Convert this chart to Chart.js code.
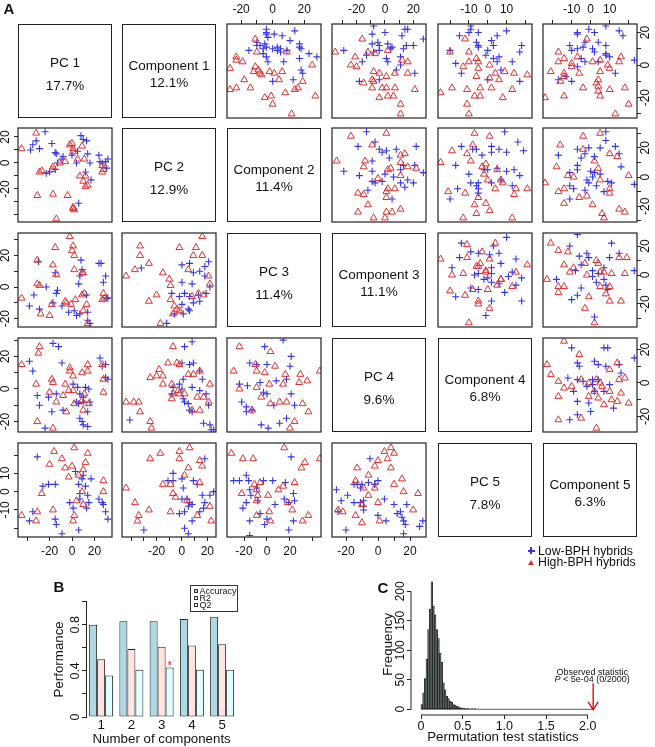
<!DOCTYPE html>
<html><head><meta charset="utf-8">
<script src="https://cdn.jsdelivr.net/npm/chart.js@4.4.1/dist/chart.umd.min.js"></script>
<style>
html,body{margin:0;padding:0;background:#fff;}
#root{position:relative;width:655px;height:747px;overflow:hidden;font-family:"Liberation Sans",Arial,Helvetica,sans-serif;color:#111;}
#root canvas{position:absolute;}
.diag{position:absolute;box-sizing:border-box;border:1.2px solid #222;}
.t{position:absolute;white-space:nowrap;transform:translate(-50%,-50%);line-height:1;}
.tl{position:absolute;white-space:nowrap;transform:translate(0,-50%);line-height:1;}
</style></head><body><div id="root"></div>
<script>
// ---------------- DATA : scatter-plot matrix (A) ----------------
// upper triangle = PLS components, lower triangle = principal components; [x, y]
const r1c3Low=[[-4,22],[-4,19],[1,19],[6,18],[14,21],[-10,12],[-5,13],[-4,11],[3,9],[11,15],[17,13],[17,11],[-15,9],[-6,7],[0,10],[23,7],[28,5],[-4,5],[-3,2],[7,2],[17,4],[18,-3],[19,-5],[0,-10],[13,-9],[-10,14],[5,10],[-4,20],[-3,17],[-8,12],[-6,10],[3,11],[5,8],[18,10],[9,9]];
const r1c3High=[[-11,16],[-10,8],[9,8],[-23,5],[-23,3],[-19,2],[-27,-2],[-11,-1],[-9,-3],[-12,-4],[-8,-5],[-2,-4],[1,-5],[6,-4],[25,0],[-18,-9],[-7,-6],[4,-9],[19,-10],[16,-14],[14,-15],[8,-17],[-27,-15],[-23,-14],[-14,-14],[-5,-20],[-1,-19],[0,-24],[12,-30],[27,-19]];
const r1c4Low=[[-8,24],[-9,19],[0,20],[14,22],[16,22],[12,18],[-9,13],[-5,14],[-4,12],[2,13],[20,12],[15,12],[13,10],[4,10],[-4,9],[-8,8],[-13,6],[-29,9],[-16,2],[11,5],[1,4],[2,2],[11,0],[8,-3],[21,-5],[-4,-9],[-18,-10],[27,16],[5,11]];
const r1c4High=[[-16,16],[-12,8],[2,9],[-21,5],[-35,8],[-7,7],[12,3],[16,2],[-24,0],[-20,-1],[-8,-4],[-4,-5],[1,-7],[7,-5],[16,-5],[-15,-11],[-9,-9],[-8,-10],[-2,-14],[1,-14],[7,-14],[-4,-20],[2,-19],[6,-19],[11,-24],[21,-15],[11,-30],[-9,-14]];
const r1c5Low=[[-9,24],[-5,20],[-10,20],[-15,18],[-6,14],[-5,12],[2,15],[5,18],[3,12],[10,21],[18,12],[17,8],[0,9],[-1,6],[3,4],[6,5],[5,2],[13,2],[-20,9],[-17,1],[-14,-5],[7,-3],[0,-9],[17,-10],[-9,22],[-5,11]];
const r1c5High=[[-12,16],[-20,8],[-10,8],[-6,4],[-5,2],[-5,-2],[-13,-1],[-10,2],[1,0],[9,-4],[14,-5],[21,-6],[-6,-7],[1,-8],[6,-9],[-4,-14],[2,-14],[-11,-15],[-19,-14],[-25,-17],[-7,-19],[-4,-19],[13,-15],[8,-20],[-11,-24],[-10,-30],[4,-5]];
const r1c6Low=[[-7,20],[-7,19],[-1,22],[2,20],[8,24],[15,21],[17,18],[-11,12],[-10,9],[-7,10],[-3,14],[4,14],[8,12],[8,7],[1,10],[2,8],[10,5],[-5,4],[-3,2],[-7,-1],[4,2],[-17,-9],[-13,-7],[-10,-10],[13,-5],[23,3],[8,6],[-4,11]];
const r1c6High=[[-2,16],[-17,8],[-17,2],[-7,5],[-14,4],[-10,1],[-10,-1],[-21,-4],[-14,-5],[-14,-7],[-16,-10],[-6,-5],[1,2],[5,3],[9,0],[5,-4],[15,2],[16,5],[4,-9],[3,-11],[4,-13],[5,-19],[10,-15],[4,-16],[-4,-14],[-14,-19],[18,-14],[20,-24],[13,-30],[-24,-20],[10,-2]];
const r2c1Low=[[-24,24],[-32,17],[-35,14],[-37,10],[-29,11],[-18,15],[-15,8],[-14,7],[-8,5],[0,6],[5,9],[8,21],[10,18],[13,17],[14,7],[16,0],[24,6],[25,1],[27,0],[30,1],[32,3],[31,-4],[-13,0],[-15,-5],[-20,-7],[-23,-8],[12,-7],[17,-13],[6,-31],[4,0],[-9,3]];
const r2c1High=[[-32,23],[-45,11],[-2,14],[0,15],[1,9],[1,11],[-6,1],[-17,-3],[-18,-5],[-29,-7],[-27,-6],[9,13],[5,3],[11,3],[7,-10],[12,-10],[10,-14],[14,-17],[12,-18],[27,-2],[28,-5],[27,-7],[-31,-25],[-17,-24],[-4,-25],[1,-34],[2,-36],[1,-35],[-14,-43],[-11,0]];
const r2c4Low=[[-13,31],[-7,24],[-19,21],[-4,19],[-2,17],[1,18],[8,19],[22,21],[3,13],[-9,11],[11,5],[21,8],[27,3],[-29,4],[-18,1],[-9,4],[0,2],[6,0],[16,-2],[11,-4],[14,-7],[-9,-3],[-7,-4],[-2,-3],[-12,-9],[5,-15],[13,8],[20,-4]];
const r2c4High=[[-24,28],[1,30],[-9,22],[-14,11],[-15,7],[11,15],[14,16],[11,10],[16,7],[22,6],[11,1],[4,6],[-5,-1],[2,-8],[7,-8],[-34,11],[-19,-11],[-15,-12],[1,-10],[1,-14],[-12,-19],[1,-24],[5,-24],[11,-22],[-19,-24],[-8,-28],[0,-28],[2,5]];
const r2c5Low=[[-14,21],[-8,19],[-6,19],[2,21],[9,31],[16,24],[19,18],[-3,15],[2,17],[6,19],[10,17],[-17,8],[-10,2],[-2,5],[0,5],[5,6],[10,4],[14,5],[17,1],[-9,-4],[-5,-4],[-6,-6],[2,-4],[7,-2],[13,-6],[-16,-8],[-20,-15],[-5,-8],[-5,-11]];
const r2c5High=[[-7,30],[1,28],[-19,18],[-11,16],[-9,11],[-8,22],[-3,7],[-1,9],[-2,2],[5,5],[7,-2],[8,-4],[4,-8],[15,-8],[21,-8],[-25,10],[-21,-10],[-12,-11],[-5,-14],[-7,-19],[-1,-18],[1,-23],[-13,-28],[-6,-25],[14,-12],[13,-28],[0,-2]];
const r2c6Low=[[8,31],[8,25],[13,21],[15,16],[-1,20],[-7,19],[-17,15],[2,14],[-7,8],[-7,5],[-11,3],[0,4],[2,3],[-1,-4],[3,-6],[9,-3],[-11,-6],[-3,-9],[7,-10],[16,7],[23,-5],[-11,-15],[5,20],[-3,16],[-5,13],[1,0],[5,2],[-2,-2],[11,-4],[-9,-8]];
const r2c6High=[[-16,22],[-4,28],[5,30],[-4,19],[-18,7],[-12,1],[-9,0],[2,11],[4,6],[10,16],[14,14],[5,-2],[-17,-10],[-14,-8],[-6,-14],[-2,-13],[10,-8],[10,-11],[20,1],[-24,-4],[-14,-18],[1,-19],[6,-25],[7,-28],[15,-22],[18,-24]];
const r3c1Low=[[-30,16],[-15,9],[-13,-2],[-14,-4],[-23,0],[-34,-5],[-38,-12],[-29,-14],[-17,-10],[-9,-12],[-3,-16],[2,-15],[4,-18],[7,-17],[8,17],[7,7],[6,2],[13,-5],[14,-16],[16,-23],[24,15],[26,15],[30,7],[28,3],[31,-7],[32,-7],[14,-21],[9,11]];
const r3c1High=[[-2,32],[1,26],[0,23],[2,20],[-15,25],[-31,17],[-17,14],[-14,8],[2,11],[9,9],[10,9],[-31,2],[-29,1],[-45,-7],[-18,-11],[-6,-9],[-5,-10],[-1,-11],[3,-8],[9,-5],[11,-4],[13,-11],[10,-15],[-28,-17],[-20,-18],[14,-23],[28,-4],[27,-8],[29,-7]];
const r3c2Low=[[-32,12],[0,14],[6,15],[9,9],[21,16],[18,13],[14,10],[18,7],[0,3],[8,2],[22,0],[19,-4],[-8,-4],[-2,-6],[6,-6],[13,-5],[0,-11],[5,-14],[9,-10],[6,-15],[1,-17],[-6,-17],[-12,-23],[14,-9],[2,-4]];
const r3c2High=[[-33,26],[-33,20],[-2,25],[11,25],[16,32],[9,20],[16,20],[-44,7],[-37,11],[-26,15],[-15,9],[-10,5],[5,11],[21,7],[-9,1],[-20,-5],[-26,-9],[-9,-8],[-6,-12],[-4,-14],[-7,-17],[-2,-15],[8,-6],[17,-5],[-17,-23],[22,2],[13,-4]];
const r3c5Low=[[-14,22],[10,26],[3,20],[-5,15],[-9,16],[1,14],[6,15],[-15,12],[15,11],[-19,5],[-7,0],[-5,1],[2,1],[7,8],[13,2],[-2,-3],[0,-2],[2,-5],[6,-6],[11,-1],[18,-2],[15,-7],[-17,-15],[-9,-9],[-5,-10],[9,-12],[2,-18],[-1,-28],[18,-18],[2,5]];
const r3c5High=[[-11,21],[-25,11],[-11,12],[-3,16],[4,22],[-13,1],[-6,6],[-4,8],[-5,6],[-1,3],[-1,2],[7,-3],[7,-3],[15,2],[21,7],[-19,0],[-20,-11],[-12,-14],[-8,-10],[-5,-18],[-5,-20],[0,-10],[5,-7],[13,-8],[1,-23],[-10,-33],[1,11]];
const r3c6Low=[[-7,28],[-11,20],[-2,15],[-6,13],[-1,12],[10,12],[15,15],[-8,3],[-5,7],[1,3],[4,1],[7,5],[1,-1],[3,-5],[7,-3],[8,-7],[9,-10],[-18,-3],[-5,-9],[-7,-14],[-10,-17],[2,-29],[23,3],[11,22]];
const r3c6High=[[-21,22],[-17,17],[-12,16],[-14,7],[-9,5],[-11,2],[-3,8],[3,10],[4,8],[7,2],[5,2],[11,1],[-23,-3],[-17,-8],[-17,-12],[-14,-8],[-2,0],[5,-8],[10,-8],[15,12],[19,12],[18,1],[8,-13],[-1,-15],[-3,-23],[2,-33],[16,-18],[10,-18]];
const r4c1Low=[[-17,28],[-12,26],[-38,17],[-9,16],[25,19],[27,14],[30,15],[-35,11],[30,7],[32,6],[-31,-4],[-21,-5],[-14,-3],[1,3],[5,1],[12,1],[15,0],[7,-3],[10,-5],[4,-8],[6,-9],[10,-8],[16,-8],[-29,-10],[-18,-14],[-8,-13],[14,-14],[7,-18],[9,-20],[10,-22],[14,-23],[-24,-24]];
const r4c1High=[[-29,26],[-30,22],[-45,15],[-2,13],[14,15],[27,15],[-18,6],[-32,3],[-20,-2],[-17,4],[-6,3],[-2,11],[1,8],[9,10],[14,11],[-3,-1],[1,-1],[11,-3],[9,-7],[-8,-4],[-14,-8],[-5,-14],[2,-9],[10,-13],[15,-9],[28,6],[-31,-20],[-17,-24],[28,-2]];
const r4c2Low=[[2,26],[8,29],[0,16],[6,15],[9,16],[14,11],[16,6],[1,6],[-2,3],[-7,1],[-8,-3],[0,0],[8,1],[1,-6],[5,-9],[6,-13],[8,-14],[14,-1],[19,-3],[21,-10],[-41,-19],[17,-21],[22,-22],[23,-25],[25,-25],[2,-8]];
const r4c2High=[[-7,26],[-11,16],[-4,16],[-2,15],[-18,12],[-25,7],[-20,8],[-15,8],[5,9],[9,9],[14,11],[-15,3],[-8,3],[-3,-1],[-7,-3],[-2,-3],[-8,-6],[2,-3],[12,-5],[17,-5],[21,-8],[22,3],[-44,-8],[-38,-8],[-34,-8],[-33,-14],[-25,-20],[-24,-24],[8,-13],[14,-13]];
const r4c3Low=[[-2,26],[14,30],[-15,16],[-9,15],[0,15],[20,14],[21,20],[-24,3],[-17,2],[-6,4],[-3,-2],[0,-3],[8,5],[17,6],[21,-3],[-22,-8],[-18,-11],[-18,-14],[-13,-13],[6,-10],[17,-18],[24,-10],[-5,-22],[1,-24],[11,-21]];
const r4c3High=[[-24,26],[3,23],[-10,15],[-29,11],[-9,11],[-2,10],[7,14],[16,9],[29,9],[46,11],[-24,0],[-9,1],[2,3],[14,3],[28,4],[35,5],[-5,-5],[3,-9],[11,-8],[17,-8],[31,-9],[36,-14],[-13,-13],[24,-20],[20,-24]];
const r4c6Low=[[-10,21],[7,21],[9,21],[23,15],[-7,12],[-6,10],[2,13],[4,11],[8,10],[15,11],[16,6],[-12,3],[-7,2],[-9,-5],[-4,1],[-2,-2],[1,2],[1,-1],[2,-5],[7,-5],[10,-1],[12,-15],[-7,-11],[-1,-12],[0,-17],[-7,-19],[-11,-22],[4,2]];
const r4c6High=[[-14,25],[-6,17],[14,12],[-23,11],[-21,5],[-17,1],[-14,-3],[-10,-2],[-17,-8],[-5,2],[-1,0],[3,2],[5,0],[6,-2],[2,-5],[-1,-8],[4,-9],[10,-5],[7,-13],[11,-10],[15,2],[18,3],[16,-6],[14,-11],[20,-12],[-17,-22],[-5,-21],[3,-27],[10,8]];
const r5c1Low=[[-31,19],[3,11],[10,9],[-21,4],[-26,3],[-15,4],[6,4],[9,7],[17,7],[12,3],[7,-1],[14,-2],[-2,-6],[1,-9],[13,-9],[15,-6],[24,-4],[27,-6],[28,-7],[30,-11],[32,-15],[-35,-11],[-38,-16],[-15,-15],[-14,-18],[-9,-23],[6,-21],[7,-4]];
const r5c1High=[[-16,22],[2,24],[14,21],[-20,15],[-9,18],[-6,13],[0,14],[-3,8],[28,6],[28,0],[10,12],[12,16],[-27,-1],[9,0],[10,-7],[4,-5],[-31,-11],[-17,-10],[2,-13],[1,-16],[-45,-13],[-32,-16],[6,9]];
const r5c2Low=[[18,18],[-7,10],[-11,6],[-7,6],[0,7],[9,6],[12,4],[1,2],[4,-4],[0,-4],[6,-6],[5,-8],[-2,-12],[2,-11],[8,-16],[14,-11],[17,-9],[18,-6],[22,-2],[25,0],[2,-20],[5,-23],[-30,-21],[16,-2],[8,-7]];
const r5c2High=[[-25,18],[-17,21],[-2,22],[6,24],[-2,18],[5,13],[14,17],[16,14],[2,9],[-44,2],[-37,-6],[-34,-13],[-35,-16],[-26,-10],[-15,4],[-9,4],[-7,-1],[-5,-3],[-9,-11],[4,-5],[12,-13],[22,-8],[23,-16],[14,5]];
const r5c3Low=[[21,19],[-18,9],[-29,6],[-24,6],[-16,6],[-3,6],[5,6],[16,5],[-15,1],[-9,2],[-14,-2],[-18,-6],[-21,-9],[-8,-5],[-6,-12],[7,-7],[15,-4],[19,-6],[23,-1],[24,-5],[0,-15],[-2,-18],[-15,-16],[19,-21],[-15,-24],[23,-16]];
const r5c3High=[[-31,21],[-21,18],[-12,18],[15,24],[33,16],[46,18],[30,13],[-6,5],[-11,4],[-9,1],[-8,-2],[-22,-1],[1,-2],[10,1],[14,3],[24,5],[-9,-5],[18,-6],[22,-10],[2,-11],[-9,-13],[3,-16],[31,-16],[36,-13]];
const r5c4Low=[[-5,18],[0,6],[-2,4],[-15,4],[-26,1],[-13,4],[-11,2],[-10,4],[-6,5],[-2,4],[-19,-2],[-23,-5],[-15,-6],[-11,-6],[-9,-5],[-9,-8],[-9,-10],[-25,-11],[4,-4],[10,-7],[12,-12],[14,-11],[18,-7],[0,-13],[5,-16],[15,-14],[16,-16],[17,-18],[26,-19],[28,-16],[-20,-21],[16,-23]];
const r5c4High=[[8,24],[4,22],[10,21],[6,18],[0,17],[-2,14],[-13,13],[8,13],[15,7],[-6,9],[-14,6],[-9,2],[-2,2],[10,4],[-6,-2],[0,-6],[16,0],[25,-1],[-10,-7],[-14,-13],[-10,-17],[1,-16],[22,-10],[-25,-10],[-22,-11]];

// diagonal labels
const pcLabels=['PC 1','PC 2','PC 3','PC 4','PC 5'];
const pcVariance=['17.7%','12.9%','11.4%','9.6%','7.8%'];
const compLabels=['Component 1','Component 2','Component 3','Component 4','Component 5'];
const compVariance=['12.1%','11.4%','11.1%','6.8%','6.3%'];
const groupNames=['Low-BPH hybrids','High-BPH hybrids'];

// axis ticks (values and which are labelled)
const ticksBy20=[-40,-20,0,20], lab20=[-20,0,20], lab10=[-10,0,10];
const t40to20=[-40,-30,-20,-10,0,10,20], t30to20=[-30,-20,-10,0,10,20], t20to20=[-20,-10,0,10,20];
const t20to30=[-20,-10,0,10,20,30], t30to30=[-30,-20,-10,0,10,20,30], t20to40=[-20,0,20,40];

// ---------------- DATA : panel B ----------------
const compNums=['1','2','3','4','5'];
const accuracyVals=[0.80,0.83,0.83,0.85,0.87];
const r2Vals=[0.50,0.59,0.61,0.62,0.63];
const q2Vals=[0.36,0.41,0.43,0.41,0.41];
const perfTicks=[0,0.2,0.4,0.6,0.8,1.0], perfLabels=[0,0.4,0.8];
const bestComp=3;

// ---------------- DATA : panel C ----------------
const histMids=[0.01,0.03,0.05,0.07,0.09,0.11,0.13,0.15,0.17,0.19,0.21,0.23,0.25,0.27,0.29,0.31,0.33,0.35,0.37,0.39,0.41,0.43,0.45,0.47,0.49,0.51,0.53,0.55,0.57,0.59,0.61,0.63,0.65];
const histCounts=[8,28,52,85,135,170,216,175,160,135,120,95,80,45,33,22,18,14,12,8,7,5,4,3,2,2,1,1,1,0,1,0,1];
const histRangeEnd=2.06;
const statTicks=[0,0.5,1.0,1.5,2.0];
const freqTicks=[0,50,100,150,200];
const observedStat=2.066;

// ---------------- LAYOUT ----------------
const FONT='"Liberation Sans", Arial, Helvetica, sans-serif';
const BLUE='#3636e6', RED='#dc3030', INK='#222';
const COLX=[18,122,227,332,438,543], ROWY=[24,128,233,338,443], PW=94, PH=94, M=30;
const root=document.getElementById('root');

const X_LOW={1:{min:-48.2,max:35.7,ticks:ticksBy20,labels:lab20},2:{min:-47.2,max:26.8,ticks:t40to20,labels:lab20},3:{min:-34.8,max:47,ticks:t20to40,labels:lab20},4:{min:-28.75,max:30,ticks:t20to20,labels:lab20}};
const Y_LOW={2:{min:-45.4,max:26.9,ticks:t40to20,labels:lab20},3:{min:-25.3,max:34.2,ticks:t20to30,labels:lab20},4:{min:-26.4,max:31.3,ticks:t20to30,labels:lab20},5:{min:-24.8,max:26.6,ticks:t20to20,labels:lab10}};
const X_UP={3:{min:-28.9,max:30.6,ticks:t20to20,labels:lab20},4:{min:-37.3,max:28.9,ticks:t30to20,labels:lab20},5:{min:-26.4,max:23.5,ticks:t20to20,labels:lab10},6:{min:-25.1,max:24.4,ticks:t20to20,labels:lab10}};
const Y_UP={1:{min:-32.5,max:25.2,ticks:t30to20,labels:lab20},2:{min:-30.8,max:33.6,ticks:t30to30,labels:lab20},3:{min:-35.9,max:29,ticks:t30to20,labels:lab20},4:{min:-29.3,max:26.9,ticks:t20to20,labels:lab20}};

const PANELS=[
 [1,3,r1c3Low,r1c3High],[1,4,r1c4Low,r1c4High],[1,5,r1c5Low,r1c5High],[1,6,r1c6Low,r1c6High],
 [2,1,r2c1Low,r2c1High],[2,4,r2c4Low,r2c4High],[2,5,r2c5Low,r2c5High],[2,6,r2c6Low,r2c6High],
 [3,1,r3c1Low,r3c1High],[3,2,r3c2Low,r3c2High],[3,5,r3c5Low,r3c5High],[3,6,r3c6Low,r3c6High],
 [4,1,r4c1Low,r4c1High],[4,2,r4c2Low,r4c2High],[4,3,r4c3Low,r4c3High],[4,6,r4c6Low,r4c6High],
 [5,1,r5c1Low,r5c1High],[5,2,r5c2Low,r5c2High],[5,3,r5c3Low,r5c3High],[5,4,r5c4Low,r5c4High]
];

function mkCanvas(l,t,w,h){
  const c=document.createElement('canvas'); c.width=w; c.height=h;
  Object.assign(c.style,{left:l+'px',top:t+'px',width:w+'px',height:h+'px'});
  root.appendChild(c); return c;
}
function addText(x,y,s,size,cls,extra){
  const e=document.createElement('div'); e.className=cls||'t'; e.textContent=s;
  Object.assign(e.style,{left:x+'px',top:y+'px',fontSize:size+'px'},extra||{});
  root.appendChild(e); return e;
}
const boxPlugin={id:'box',afterDraw(ch){const a=ch.chartArea,g=ch.ctx;g.save();g.strokeStyle=INK;g.lineWidth=1.2;g.strokeRect(a.left,a.top,a.right-a.left,a.bottom-a.top);g.restore();}};

function tickAxis(ax,pos,isY){
  return {type:'linear',min:ax.min,max:ax.max,display:!!pos,position:pos||(isY?'left':'bottom'),
    grid:{display:true,drawOnChartArea:false,drawTicks:true,tickLength:4,color:INK,lineWidth:1,offset:false},
    border:{display:false},
    ticks:{autoSkip:false,font:{family:FONT,size:12},color:'#111',
      padding:isY?(pos==='right'?-4:0):3,
      minRotation:isY?90:0,maxRotation:isY?90:0,crossAlign:isY?'center':'near',
      callback:(v)=>ax.labels.includes(v)?String(v):''},
    afterBuildTicks:(s)=>{s.ticks=ax.ticks.map(v=>({value:v}));},
    afterFit:(s)=>{const sz=pos?M:0;if(isY)s.width=sz;else s.height=sz;s.paddingLeft=0;s.paddingRight=0;s.paddingTop=0;s.paddingBottom=0;}
  };
}
function makePanel(r,c,low,high){
  const upper=c>r;
  const xa=upper?X_UP[c]:X_LOW[c], ya=upper?Y_UP[r]:Y_LOW[r];
  const xPos=upper&&r===1?'top':(!upper&&r===5?'bottom':null);
  const yPos=!upper&&c===1?'left':(upper&&c===6?'right':null);
  const cv=mkCanvas(COLX[c-1]-M,ROWY[r-1]-M,PW+2*M,PH+2*M);
  new Chart(cv,{type:'scatter',
    data:{datasets:[
      {data:high.map(p=>({x:p[0],y:p[1]})),pointStyle:'triangle',pointRadius:4,borderColor:RED,backgroundColor:'rgba(0,0,0,0)',borderWidth:1},
      {data:low.map(p=>({x:p[0],y:p[1]})),pointStyle:'cross',pointRadius:3.5,borderColor:BLUE,backgroundColor:BLUE,borderWidth:1.1}]},
    options:{responsive:false,animation:false,devicePixelRatio:1,events:[],
      layout:{autoPadding:false,padding:{left:yPos==='left'?0:M,right:yPos==='right'?0:M,top:xPos==='top'?0:M,bottom:xPos==='bottom'?0:M}},
      plugins:{legend:{display:false},tooltip:{enabled:false}},
      scales:{x:tickAxis(xa,xPos,false),y:tickAxis(ya,yPos,true)}},
    plugins:[boxPlugin]});
}
PANELS.forEach(p=>makePanel(p[0],p[1],p[2],p[3]));

function diagBox(r,c,l1,l2,d1,d2){
  const d=document.createElement('div'); d.className='diag';
  Object.assign(d.style,{left:COLX[c-1]+'px',top:ROWY[r-1]+'px',width:PW+'px',height:PH+'px'});
  root.appendChild(d);
  const cx=COLX[c-1]+PW/2, cy=ROWY[r-1]+PH/2;
  addText(cx,cy+d1,l1,13.5); addText(cx,cy+d2,l2,13.5);
}
pcLabels.forEach((lab,i)=>{diagBox(i+1,i+1,lab,pcVariance[i],-8,15);diagBox(i+1,i+2,compLabels[i],compVariance[i],-5,11.5);});

// legend A
(function(){
  const a=document.createElement('div');Object.assign(a.style,{position:'absolute',left:'527.5px',top:'550px',width:'7px',height:'1.5px',background:BLUE});root.appendChild(a);
  const b=document.createElement('div');Object.assign(b.style,{position:'absolute',left:'530.25px',top:'547.25px',width:'1.5px',height:'7px',background:BLUE});root.appendChild(b);
  const t=document.createElement('div');Object.assign(t.style,{position:'absolute',left:'528px',top:'559.5px',width:0,height:0,borderLeft:'3px solid transparent',borderRight:'3px solid transparent',borderBottom:'5px solid '+RED});root.appendChild(t);
  addText(538,550.8,groupNames[0],12.3,'tl'); addText(538,562.4,groupNames[1],12.3,'tl');
})();
addText(9,8,'A',15,'t',{fontWeight:'bold'});
addText(59,586,'B',15,'t',{fontWeight:'bold'});
addText(383,587,'C',15,'t',{fontWeight:'bold'});

// ---------------- PANEL B ----------------
const starPlugin={id:'star',afterDatasetsDraw(ch){const el=ch.getDatasetMeta(2).data[bestComp-1];const g=ch.ctx;g.save();g.fillStyle='#e01010';g.font='10px '+FONT;g.textAlign='center';g.textBaseline='alphabetic';g.fillText('*',el.x,el.y+1.5);g.restore();}};
const cvB=mkCanvas(0,580,330,167);
new Chart(cvB,{type:'bar',
  data:{labels:compNums,datasets:[
    {label:'Accuracy',data:accuracyVals,backgroundColor:'#add8e6'},
    {label:'R2',data:r2Vals,backgroundColor:'#ffe4e1'},
    {label:'Q2',data:q2Vals,backgroundColor:'#e0ffff'}]},
  options:{responsive:false,animation:false,devicePixelRatio:1,events:[],
    datasets:{bar:{borderColor:INK,borderWidth:1,borderSkipped:false,categoryPercentage:0.793,barPercentage:1}},
    layout:{autoPadding:false,padding:{left:0,right:92.75,top:21.7,bottom:0}},
    plugins:{legend:{display:false},tooltip:{enabled:false}},
    scales:{
      x:{grid:{display:false,drawTicks:false,tickLength:0},border:{display:false},ticks:{font:{family:FONT,size:13.3},color:'#111',padding:0},
         title:{display:true,text:'Number of components',font:{family:FONT,size:13.3},color:'#111',padding:{top:0,bottom:0}},
         afterFit:s=>{s.height=30;s.paddingLeft=0;s.paddingRight=0;}},
      y:{min:0,max:1,grid:{drawOnChartArea:false,tickLength:4,color:INK},border:{display:true,color:INK,width:1},
         ticks:{font:{family:FONT,size:12.5},color:'#111',padding:-2,minRotation:90,maxRotation:90,crossAlign:'center',autoSkip:false,
           callback:v=>perfLabels.some(p=>Math.abs(p-v)<1e-9)?String(v):''},
         afterBuildTicks:s=>{s.ticks=perfTicks.map(v=>({value:v}));},
         title:{display:true,text:'Performance',font:{family:FONT,size:13.3},color:'#111',padding:{top:51,bottom:0}},
         afterFit:s=>{s.width=86;s.paddingTop=0;s.paddingBottom=0;}}
    }},
  plugins:[starPlugin]});
// legend B
(function(){
  const box=document.createElement('div');Object.assign(box.style,{position:'absolute',left:'190px',top:'585px',width:'48px',height:'27px',boxSizing:'border-box',border:'1px solid #333'});root.appendChild(box);
  const cols=['#add8e6','#ffe4e1','#e0ffff'], names=['Accuracy','R2','Q2'], ys=[591,598.4,605.2];
  names.forEach((n,i)=>{const sq=document.createElement('div');Object.assign(sq.style,{position:'absolute',left:'194px',top:(ys[i]-2)+'px',width:'4px',height:'4px',boxSizing:'border-box',border:'1px solid #333',background:cols[i]});root.appendChild(sq);
    addText(199.5,ys[i],n,9,'tl');});
})();

// ---------------- PANEL C ----------------
const histDecor={id:'histDecor',afterDatasetsDraw(ch){
  const xs=ch.scales.x,ys=ch.scales.y,g=ch.ctx,a=ch.chartArea;
  g.save();g.strokeStyle=INK;g.lineWidth=1;
  g.beginPath();g.moveTo(a.left,ys.getPixelForValue(freqTicks[0]));g.lineTo(a.left,ys.getPixelForValue(freqTicks[freqTicks.length-1]));g.stroke();
  g.beginPath();g.moveTo(xs.getPixelForValue(statTicks[0]),a.bottom);g.lineTo(xs.getPixelForValue(statTicks[statTicks.length-1]),a.bottom);g.stroke();
  g.strokeStyle='#333';g.lineWidth=0.8;g.beginPath();const y0=ys.getPixelForValue(0);g.moveTo(xs.getPixelForValue(0),y0);g.lineTo(xs.getPixelForValue(histRangeEnd),y0);g.stroke();
  const x=xs.getPixelForValue(observedStat),yt=ys.getPixelForValue(44),yb=ys.getPixelForValue(0)+0.5;
  g.strokeStyle='#d01010';g.lineWidth=1.4;g.beginPath();g.moveTo(x,yt);g.lineTo(x,yb);g.stroke();
  g.beginPath();g.moveTo(x-5,yb-8);g.lineTo(x,yb);g.lineTo(x+5,yb-8);g.stroke();
  g.fillStyle='#111';g.textBaseline='middle';g.textAlign='center';g.font='9px '+FONT;
  g.fillText('Observed statistic',x-1,ys.getPixelForValue(62));
  const rest=' < 5e-04 (0/2000)';g.font='italic 9px '+FONT;const wP=g.measureText('P').width;g.font='9px '+FONT;const wR=g.measureText(rest).width;
  const sx=x-1-(wP+wR)/2,yl=ys.getPixelForValue(51);g.textAlign='left';g.font='italic 9px '+FONT;g.fillText('P',sx,yl);g.font='9px '+FONT;g.fillText(rest,sx+wP,yl);
  g.restore();}};
const cvC=mkCanvas(330,560,325,187);
new Chart(cvC,{type:'bar',
  data:{datasets:[{data:histMids.map((m,i)=>({x:m,y:histCounts[i]})),backgroundColor:'#5a6462',borderColor:'#151515',borderWidth:0.6,borderSkipped:false,barPercentage:1,categoryPercentage:1,grouped:false}]},
  options:{responsive:false,animation:false,devicePixelRatio:1,events:[],
    layout:{autoPadding:false,padding:{left:0,right:60,top:13.6,bottom:0}},
    plugins:{legend:{display:false},tooltip:{enabled:false}},
    scales:{
      x:{type:'linear',min:-0.12,max:2.088,offset:false,grid:{display:true,offset:false,drawOnChartArea:false,tickLength:4,color:INK},border:{display:false},
         ticks:{autoSkip:false,font:{family:FONT,size:12.5},color:'#111',padding:0,callback:v=>v===0?'0':v.toFixed(1)},
         afterBuildTicks:s=>{s.ticks=statTicks.map(v=>({value:v}));},
         title:{display:true,text:'Permutation test statistics',font:{family:FONT,size:13.3},color:'#111',padding:{top:0,bottom:1.7}},
         afterFit:s=>{s.height=32;s.paddingLeft=0;s.paddingRight=0;}},
      y:{min:-9.7,max:230,grid:{display:true,drawOnChartArea:false,tickLength:4,color:INK},border:{display:false},
         ticks:{autoSkip:false,font:{family:FONT,size:12},color:'#111',padding:-4,minRotation:90,maxRotation:90,crossAlign:'center',callback:v=>String(v)},
         afterBuildTicks:s=>{s.ticks=freqTicks.map(v=>({value:v}));},
         title:{display:true,text:'Frequency',font:{family:FONT,size:13.3},color:'#111',padding:{top:50,bottom:0}},
         afterFit:s=>{s.width=81;s.paddingTop=0;s.paddingBottom=0;}}
    }},
  plugins:[histDecor]});
</script></body></html>
